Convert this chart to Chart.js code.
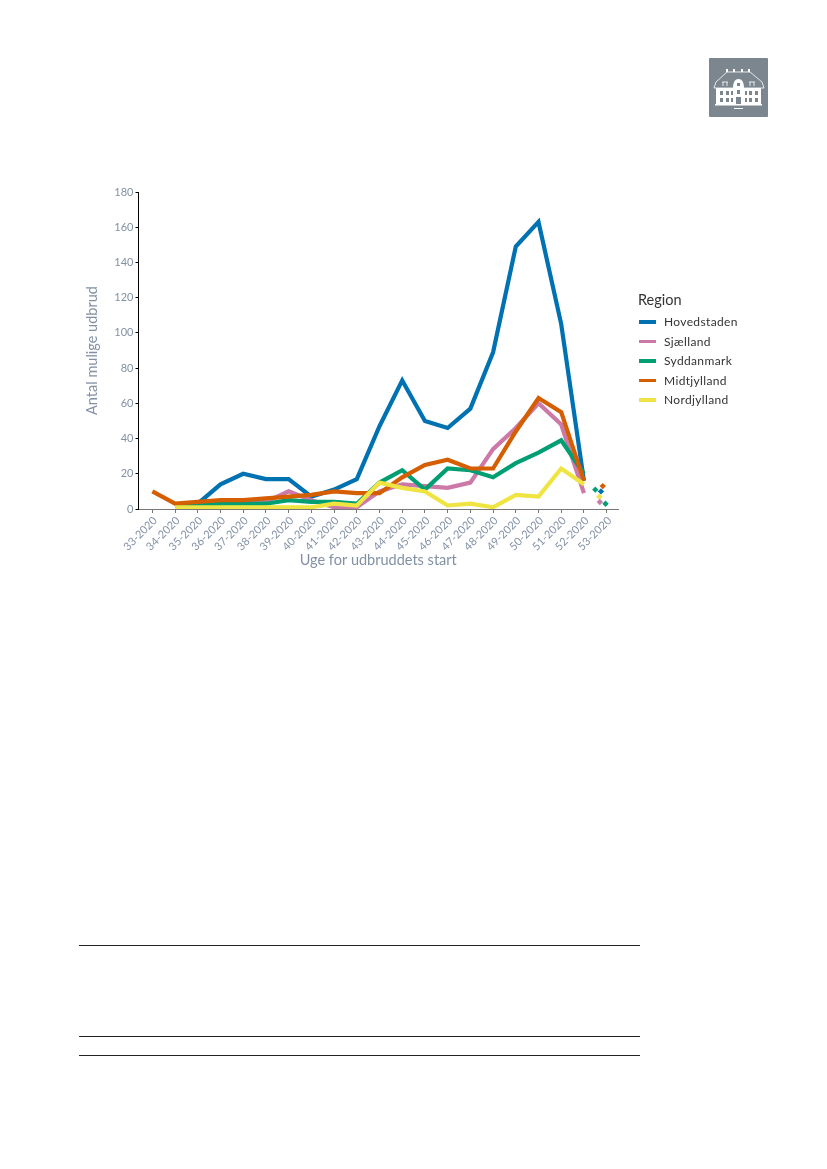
<!DOCTYPE html>
<html lang="da">
<head>
<meta charset="utf-8">
<title>Antal mulige udbrud</title>
<script src="https://cdn.jsdelivr.net/npm/chart.js@4"></script>
<style>
  html, body { margin: 0; padding: 0; background: #fff; }
  body { position: relative; width: 827px; height: 1169px; overflow: hidden; font-family: Lato, sans-serif; }
  #chart-box { position: absolute; left: 0; top: 0; width: 827px; height: 580px; }
  #logo { position: absolute; left: 709px; top: 58px; }
  .rule { position: absolute; left: 79px; width: 561px; height: 1px; background: #222; }
  #legend { position: absolute; left: 638px; top: 291px; color: #333; }
  #legend .title { font-size: 14.5px; line-height: 18px; margin-bottom: 3px; }
  #legend .item { position: relative; height: 19.6px; line-height: 19.6px; font-size: 12px; padding-left: 26px; letter-spacing: .35px; }
  #legend .key { position: absolute; left: 1px; top: 8px; width: 17px; height: 3.5px; }
</style>
</head>
<body>
<div id="chart-box"><canvas id="chart"></canvas></div>

<svg id="logo" width="59" height="59" viewBox="0 0 59 59">
  <rect width="59" height="59" rx="1" fill="#7c868f"/>
  <g fill="none" stroke="#fff" stroke-width="0.8">
    <path d="M7 24 L18 14 H41 L53 24"/>
    <path d="M5 30 H55"/>
    <path d="M7 24 L5 30 M53 24 L55 30"/>
    <path d="M14 24 V28 M18 24 V28 M41 24 V28 M45 24 V28 M13 24 H19 M40 24 H46"/>
  </g>
  <g fill="#fff">
    <rect x="17" y="11" width="2" height="3"/><rect x="24" y="11" width="2" height="3"/>
    <rect x="32" y="11" width="2" height="3"/><rect x="39" y="11" width="2" height="3"/>
    <path d="M24 30 Q24 21 29.500 21 Q35 21 35 30 Z"/>
    <rect x="7" y="30" width="45" height="16"/>
    <rect x="6" y="46" width="47" height="1.500"/>
    <rect x="25" y="50" width="9" height="1"/>
  </g>
  <g fill="#7c868f">
    <rect x="11" y="33" width="3" height="4"/><rect x="17" y="33" width="3" height="4"/><rect x="22" y="33" width="2" height="4"/>
    <rect x="36" y="33" width="2" height="4"/><rect x="40" y="33" width="3" height="4"/><rect x="46" y="33" width="3" height="4"/>
    <rect x="11" y="40" width="3" height="4"/><rect x="17" y="40" width="3" height="4"/><rect x="22" y="40" width="2" height="4"/>
    <rect x="36" y="40" width="2" height="4"/><rect x="40" y="40" width="3" height="4"/><rect x="46" y="40" width="3" height="4"/>
    <rect x="28" y="25" width="3" height="3"/><rect x="28" y="32" width="3" height="4"/><rect x="27" y="39" width="5" height="7"/>
  </g>
</svg>

<div id="legend"></div>

<div class="rule" style="top:945px"></div>
<div class="rule" style="top:1036px"></div>
<div class="rule" style="top:1055px"></div>

<script>
  // ── Data ─────────────────────────────────────────────────────────────────
  const weeks = [33, 34, 35, 36, 37, 38, 39, 40, 41, 42, 43, 44, 45, 46, 47, 48, 49, 50, 51, 52];
  const weekTicks = [33, 34, 35, 36, 37, 38, 39, 40, 41, 42, 43, 44, 45, 46, 47, 48, 49, 50, 51, 52, 53];
  const tickLabels = ["33-2020", "34-2020", "35-2020", "36-2020", "37-2020", "38-2020", "39-2020",
    "40-2020", "41-2020", "42-2020", "43-2020", "44-2020", "45-2020", "46-2020", "47-2020",
    "48-2020", "49-2020", "50-2020", "51-2020", "52-2020", "53-2020"];
  const yTicks = [0, 20, 40, 60, 80, 100, 120, 140, 160, 180];

  const regions = ["Hovedstaden", "Sjælland", "Syddanmark", "Midtjylland", "Nordjylland"];
  const colors = ["#0072b2", "#cc79a7", "#009e73", "#d55e00", "#f0e442"];

  const hovedstaden = [null, 1, 3, 14, 20, 17, 17, 7, 11, 17, 47, 73, 50, 46, 57, 89, 149, 163, 105, 16];
  const sjaelland   = [null, 2, 2, 3, 5, 4, 10, 5, 1, 1, 10, 14, 13, 12, 15, 34, 46, 60, 48, 9];
  const syddanmark  = [null, 2, 2, 3, 3, 3, 5, 4, 4, 3, 15, 22, 11, 23, 22, 18, 26, 32, 39, 20];
  const midtjylland = [10, 3, 4, 5, 5, 6, 7, 8, 10, 9, 9, 18, 25, 28, 23, 23, 44, 63, 55, 16];
  const nordjylland = [null, 1, 1, 1, 1, 1, 1, 1, 3, 2, 15, 12, 10, 2, 3, 1, 8, 7, 23, 14];
  const lineValues = [hovedstaden, sjaelland, syddanmark, midtjylland, nordjylland];

  // Loose week 53 dots; they are jittered sideways in the reference
  const dotRegion = [2, 0, 3, 4, 1, 2];
  const dotWeek   = [52.5, 52.75, 52.83, 52.68, 52.7, 52.95];
  const dotValue  = [11, 10, 13, 7, 4, 3];

  // ── Datasets ─────────────────────────────────────────────────────────────
  const lineSets = regions.map((name, i) => ({
    label: name,
    data: weeks.map((w, k) => ({ x: w, y: lineValues[i][k] })),
    borderColor: colors[i],
    backgroundColor: colors[i],
    borderWidth: 4.2,
    pointRadius: 0,
    tension: 0,
    borderJoinStyle: "miter",
    order: regions.length - i,   // later regions paint on top
  }));

  const dotSet = {
    label: "Uge 53",
    data: dotWeek.map((w, k) => ({ x: w, y: dotValue[k] })),
    showLine: false,
    pointStyle: "rectRot",
    pointRadius: 3.2,
    pointBorderWidth: 0,
    pointBackgroundColor: dotRegion.map(r => colors[r]),
    order: 0,
  };

  // ── HTML legend ──────────────────────────────────────────────────────────
  document.getElementById("legend").innerHTML =
    `<div class="title">Region</div>` +
    regions.map((name, i) =>
      `<div class="item"><span class="key" style="background:${colors[i]}"></span>${name}</div>`
    ).join("");

  // ── Chart ────────────────────────────────────────────────────────────────
  const tickFont = { family: "Lato", size: 11 };
  const titleFont = { family: "Lato", size: 14.5 };
  const textColor = "#8290a6";

  new Chart(document.getElementById("chart"), {
    type: "line",
    data: { datasets: [...lineSets, dotSet] },
    options: {
      responsive: true,
      maintainAspectRatio: false,
      animation: false,
      layout: { padding: { left: 84, top: 192, right: 209, bottom: 0 } },
      plugins: { legend: { display: false }, tooltip: { enabled: false } },
      scales: {
        x: {
          type: "linear",
          min: 32.39,
          max: 53.5,
          afterBuildTicks: scale => { scale.ticks = weekTicks.map(value => ({ value })); },
          afterFit: scale => { scale.height = 71; },
          border: { color: "#777", width: 1 },
          grid: { drawOnChartArea: false, tickColor: "#777", tickLength: 4 },
          ticks: {
            autoSkip: false,
            maxRotation: 45,
            minRotation: 45,
            padding: 1,
            labelOffset: 3,
            color: textColor,
            font: tickFont,
            callback: v => tickLabels[weekTicks.indexOf(v)] ?? "",
          },
          title: {
            display: true,
            text: "Uge for udbruddets start",
            color: textColor,
            font: titleFont,
            padding: { top: 0, bottom: 11 },
          },
        },
        y: {
          min: 0,
          max: 180,
          afterBuildTicks: scale => { scale.ticks = yTicks.map(value => ({ value })); },
          afterFit: scale => { scale.width = 54.5; },
          border: { color: "#000", width: 1 },
          grid: { drawOnChartArea: false, tickColor: "#000", tickLength: 3 },
          ticks: { padding: 2, color: textColor, font: tickFont },
          title: {
            display: true,
            text: "Antal mulige udbrud",
            color: textColor,
            font: titleFont,
            padding: { top: 0, bottom: 0 },
          },
        },
      },
    },
  });
</script>
</body>
</html>
